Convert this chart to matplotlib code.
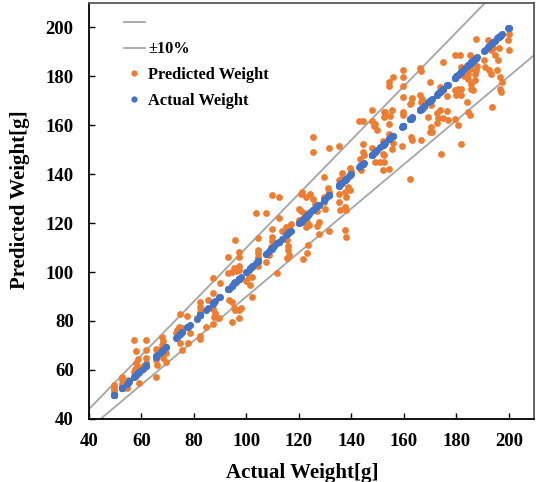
import numpy as np
import matplotlib
matplotlib.use('Agg')
import matplotlib.pyplot as plt
from matplotlib.lines import Line2D

plt.rcParams['font.family'] = ['Liberation Serif', 'DejaVu Serif']
plt.rcParams['font.weight'] = 'bold'
plt.rcParams['axes.labelweight'] = 'bold'

# (actual, predicted) pairs
actual = [
    49.7, 49.7, 49.7, 49.7, 52.5, 52.5, 52.5, 52.5, 54.3, 55.3, 54.8,
    57.3, 61.6, 57.8, 61.6, 58.8, 61.9, 61.9, 59.1, 57.0, 57.5, 58.0, 58.7, 59.5, 60.5,
    65.4, 65.4, 65.4, 65.4, 67.7, 68.2, 67.7, 69.2, 68.2, 69.2, 66.0, 67.0,
    74.8, 77.5, 74.3, 75.5, 74.5, 75.5, 77.7, 78.3, 73.5, 73.0,
    82.4, 82.4, 82.4, 82.4, 82.4, 81.0, 85.3, 87.2, 87.4, 88.2, 87.8, 89.7, 84.4, 87.2, 87.1,
    90.0, 93.0, 95.8, 97.0, 97.0, 93.0, 94.5, 95.4, 96.0, 97.3, 97.3, 93.2, 94.5, 95.8,
    95.4, 97.3, 97.9, 94.5, 97.3,
    100.0, 101.0, 101.5, 102.3, 102.1, 104.5, 104.5, 104.5, 104.5, 104.5, 104.5,
    107.4, 109.3, 110.5, 108.7, 111.8, 103.8, 107.4, 109.6, 112.4, 109.9, 109.9, 109.9,
    112.4, 113.4, 115.0, 116.2, 116.9, 115.6, 116.0, 116.0, 116.2, 115.4,
    120.0, 120.6, 121.9, 120.0, 121.0, 120.6, 122.5, 124.4, 125.3, 126.0, 127.0, 123.2,
    123.2, 123.8, 122.5, 127.6, 127.0, 127.6, 123.5, 123.2, 121.5,
    131.6, 129.5, 129.5, 129.9, 129.5, 131.1, 131.4, 135.2, 135.8, 135.2, 137.7, 138.0,
    137.7, 138.0, 137.7, 138.0, 136.5, 125.3, 125.3, 131.4, 135.4, 135.4, 136.2, 137.5,
    139.6, 140.0, 138.7, 139.6,
    143.4, 143.8, 144.3, 144.3, 144.7, 148.0, 149.1, 149.1, 151.0, 152.3, 152.3, 143.0,
    144.3, 147.8, 147.8, 148.5, 149.1, 149.7, 152.3, 152.9, 152.3, 154.8, 154.2, 155.4,
    154.2, 155.7, 155.4, 151.9, 151.9, 154.2, 159.8, 159.8, 159.8, 162.4, 163.2, 162.7,
    163.0, 162.4, 151.9, 159.2, 166.5, 170.0, 155.7, 154.4, 154.4, 159.5, 159.5, 159.5,
    166.2, 166.5, 170.0, 175.0, 179.4, 181.3, 185.1, 186.4,
    162.7, 166.2, 166.8, 166.5, 167.8, 167.8,
    173.7, 175.0, 176.3, 179.4, 180.0, 181.7, 180.6, 181.7, 173.7, 173.1, 176.6, 176.3, 175.0,
    170.3, 169.3, 172.5, 170.3,
    181.9, 181.9, 184.5, 184.5, 185.7, 185.5, 187.0, 187.6, 187.0, 183.0, 185.1, 185.7, 186.4,
    184.2, 185.1, 184.5, 180.7, 179.4, 172.5, 170.6, 190.8, 181.7, 174.0,
    187.3, 192.0, 194.0, 193.3, 194.6, 195.9, 196.1, 192.0, 190.5, 188.0, 192.3, 193.3,
    195.6, 196.5, 197.4, 196.5, 196.9, 193.6, 199.9, 199.7, 199.9,
]
predicted = [
    53.9, 52.5, 51.6, 50.5, 57.3, 55.9, 54.3, 53.0, 52.8, 55.2, 56.0,
    72.2, 72.2, 67.9, 68.2, 64.4, 64.8, 63.0, 54.8, 59.0, 60.5, 62.7, 61.0, 60.0, 61.5,
    57.0, 68.4, 66.1, 64.1, 73.3, 71.7, 70.2, 66.8, 64.8, 63.4, 62.0, 68.0,
    82.9, 82.0, 77.7, 77.0, 70.9, 68.2, 70.9, 75.2, 76.3, 75.0,
    87.9, 85.8, 83.8, 73.9, 72.5, 81.1, 88.6, 91.3, 84.8, 83.1, 81.5, 81.1, 77.4, 78.6, 97.4,
    95.6, 106.0, 113.0, 108.3, 106.3, 99.5, 100.0, 101.5, 100.5, 102.4, 101.0, 88.6, 87.9, 84.5,
    85.2, 84.5, 85.2, 79.7, 81.1,
    96.5, 97.8, 94.7, 98.1, 89.9, 114.1, 109.0, 107.6, 106.3, 104.9, 102.4,
    104.2, 110.3, 111.0, 107.0, 99.7, 124.2, 124.0, 131.4, 130.7, 117.5, 114.4, 112.8,
    121.9, 116.6, 118.5, 118.5, 119.6, 113.1, 110.6, 109.0, 106.9, 105.6,
    125.6, 125.0, 124.2, 121.2, 132.8, 132.1, 130.7, 132.1, 130.0, 128.0, 125.0, 122.6,
    120.5, 119.2, 118.5, 120.5, 118.8, 115.5, 111.0, 107.6, 105.2,
    116.9, 130.7, 128.7, 125.6, 138.9, 134.5, 132.8, 128.7, 125.3, 132.1, 132.6, 130.7,
    117.1, 114.4, 126.6, 125.3, 140.5, 155.0, 149.0, 150.5, 151.4, 137.6, 138.2, 137.8,
    142.7, 141.4, 134.8, 133.5,
    146.4, 141.6, 152.5, 149.1, 147.8, 150.5, 149.5, 145.0, 145.0, 145.0, 147.8, 161.8,
    161.8, 166.1, 161.8, 159.6, 160.4, 158.2, 165.4, 165.4, 163.4, 163.7, 160.7, 166.1,
    156.6, 152.8, 150.1, 148.2, 141.9, 142.3, 171.6, 165.4, 164.1, 168.8, 171.3, 155.2,
    153.9, 138.2, 153.6, 151.4, 154.1, 157.3, 179.7, 177.7, 175.9, 182.4, 179.7, 175.9,
    183.5, 182.2, 177.7, 185.8, 188.6, 188.6, 188.6, 187.2,
    169.1, 172.3, 170.9, 169.5, 168.8, 167.5,
    175.7, 174.3, 171.8, 174.3, 172.2, 175.0, 175.0, 172.3, 166.1, 163.1, 162.0, 165.9, 163.1,
    168.2, 163.4, 164.8, 159.3,
    183.8, 181.8, 181.1, 179.0, 176.7, 175.0, 181.1, 182.4, 178.6, 180.0, 183.1, 185.2, 174.6,
    169.5, 164.1, 165.4, 160.0, 162.7, 161.0, 157.3, 183.8, 152.2, 148.2,
    195.4, 195.0, 191.7, 190.6, 188.6, 186.5, 191.7, 191.7, 186.8, 184.1, 182.4, 181.1,
    182.4, 179.7, 177.7, 175.0, 173.6, 167.5, 197.4, 195.0, 190.6,
]

ticks = [40, 60, 80, 100, 120, 140, 160, 180, 200]
band = 0.10
line_x = np.array([40, 215])

orange = '#ED7D31'
blue = '#4472C4'
gray = '#A5A5A5'

fig = plt.figure(figsize=(5.36, 4.82), dpi=100)
ax = fig.add_axes([0.166, 0.131, 0.830, 0.863])

ax.plot(line_x, line_x * (1 + band), color=gray, lw=1.3, zorder=1)
ax.plot(line_x, line_x * (1 - band), color=gray, lw=1.3, zorder=1)
ax.scatter(actual, predicted, s=24, color=orange, linewidths=0, zorder=2)
ax.scatter(actual, actual, s=26, color=blue, linewidths=0, zorder=3)

ax.set_xlim(40, 209.5)
ax.set_ylim(40, 210)
ax.set_xticks(ticks)
ax.set_yticks(ticks)
ax.tick_params(direction='in', length=4, width=1, labelsize=13.5)
ax.tick_params(axis='x', pad=10)
ax.tick_params(axis='y', pad=11)
for t in ax.get_xticklabels() + ax.get_yticklabels():
    t.set_fontweight('bold')

for s in ['left', 'bottom']:
    ax.spines[s].set_color('black')
    ax.spines[s].set_linewidth(1.3)
for s in ['top', 'right']:
    ax.spines[s].set_color('#595959')
    ax.spines[s].set_linewidth(1.3)

ax.set_xlabel('Actual Weight[g]', fontsize=15, fontweight='bold')
ax.set_ylabel('Predicted Weight[g]', fontsize=15, fontweight='bold')
ax.xaxis.set_label_coords(0.48, -0.105)
ax.yaxis.set_label_coords(-0.133, 0.526)

handles = [
    Line2D([], [], color=gray, lw=1.3),
    Line2D([], [], color=gray, lw=1.3),
    Line2D([], [], color=orange, marker='o', ms=4.5, lw=0, mew=0),
    Line2D([], [], color=blue, marker='o', ms=4.5, lw=0, mew=0),
]
labels = ['', '\u00b110%', 'Predicted Weight', 'Actual Weight']
ax.legend(handles, labels, loc='upper left', bbox_to_anchor=(0.045, 1.005),
          frameon=False, prop={'weight': 'bold', 'size': 11.8},
          handlelength=1.3, handletextpad=0.2, labelspacing=0.6)

plt.savefig('out.png', dpi=100)
